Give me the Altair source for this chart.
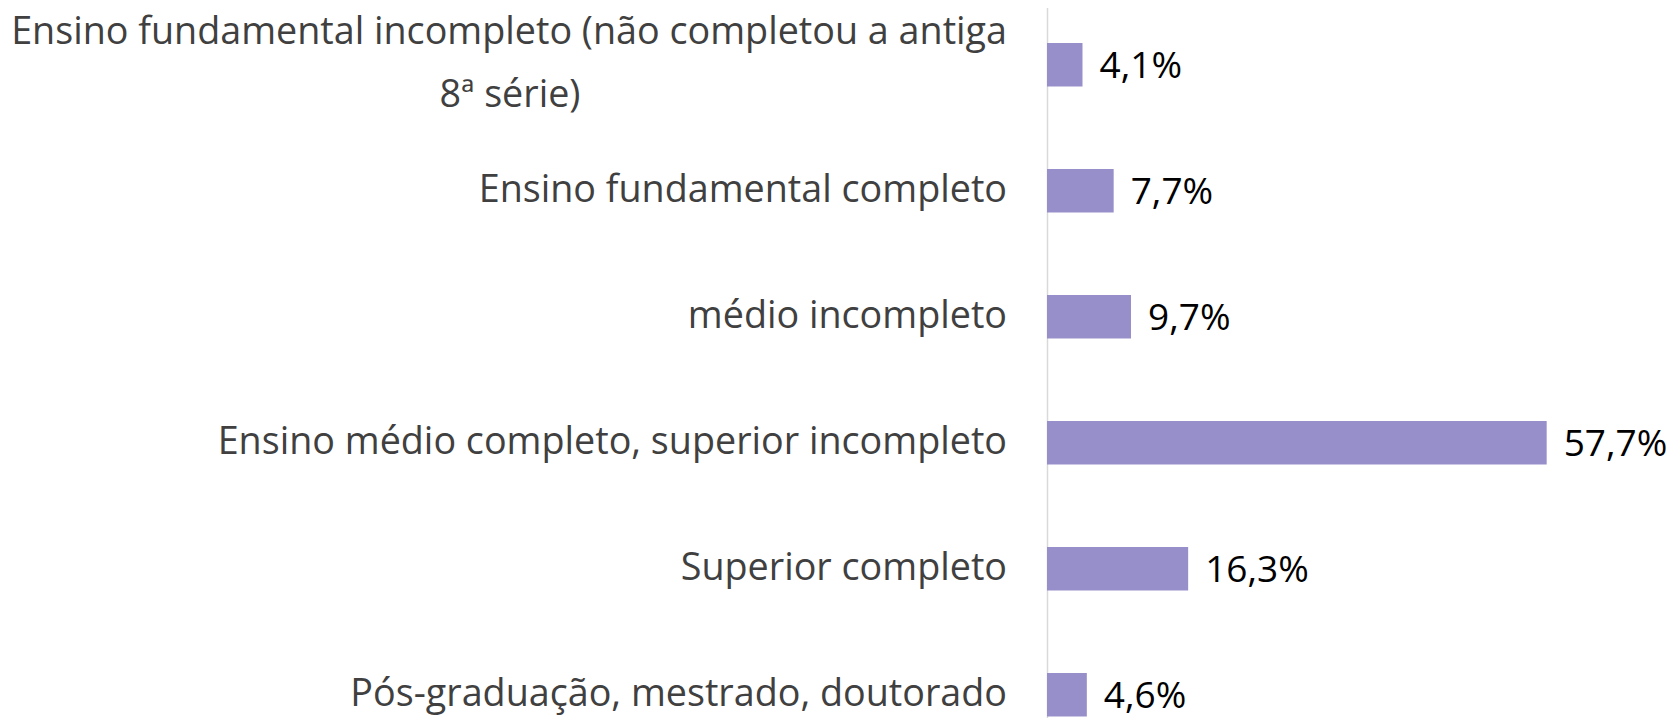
import altair as alt
import pandas as pd

categories = [
    "Ensino fundamental incompleto (não completou a antiga 8ª série)",
    "Ensino fundamental completo",
    "médio incompleto",
    "Ensino médio completo, superior incompleto",
    "Superior completo",
    "Pós-graduação, mestrado, doutorado",
]
line1 = [
    "Ensino fundamental incompleto (não completou a antiga",
    "Ensino fundamental completo",
    "médio incompleto",
    "Ensino médio completo, superior incompleto",
    "Superior completo",
    "Pós-graduação, mestrado, doutorado",
]
line2 = ["8ª série)", "", "", "", "", ""]
values = [4.1, 7.7, 9.7, 57.7, 16.3, 4.6]

df = pd.DataFrame({"cat": categories, "l1": line1, "l2": line2, "v": values})

FONT = "Open Sans"
LABEL_SIZE = 37.7
VALUE_SIZE = 37
W = 613
H = 710

yscale = alt.Scale(domain=categories, range=[-6.3, 749.7], paddingInner=0.655, paddingOuter=0.3275)
xscale = alt.Scale(domain=[0, W / 8.66])

base = alt.Chart(df)

bars = base.mark_bar(color="#978FCA").encode(
    y=alt.Y("cat:N", scale=yscale, sort=categories,
            axis=alt.Axis(labels=False, ticks=False, title=None, domainColor="#D9D9D9", domainWidth=1.5, grid=False)),
    x=alt.X("v:Q", scale=xscale, axis=None),
)

vals = base.transform_calculate(
    txt="replace(format(datum.v, '.1f'), '.', ',') + '%'"
).mark_text(align="left", baseline="middle", dx=17, dy=2, font=FONT, fontSize=VALUE_SIZE, color="#000000").encode(
    y=alt.Y("cat:N", scale=yscale, sort=categories),
    x=alt.X("v:Q", scale=xscale),
    text="txt:N",
)

single = base.transform_filter("datum.l2 == ''").mark_text(
    align="right", baseline="middle", font=FONT, fontSize=LABEL_SIZE, color="#404040"
).encode(
    y=alt.Y("cat:N", scale=yscale, sort=categories),
    x=alt.value(-40),
    text="l1:N",
)

wrap1 = base.transform_filter("datum.l2 != ''").mark_text(
    align="right", baseline="middle", dy=-32, font=FONT, fontSize=LABEL_SIZE, color="#404040"
).encode(
    y=alt.Y("cat:N", scale=yscale, sort=categories),
    x=alt.value(-40),
    text="l1:N",
)

wrap2 = base.transform_filter("datum.l2 != ''").mark_text(
    align="center", baseline="middle", dy=31, font=FONT, fontSize=LABEL_SIZE, color="#404040"
).encode(
    y=alt.Y("cat:N", scale=yscale, sort=categories),
    x=alt.value(-537),
    text="l2:N",
)

chart = alt.layer(bars, vals, single, wrap1, wrap2).properties(
    width=W,
    height=H,
    autosize=alt.AutoSizeParams(type="none"),
    padding={"left": 1039, "top": 0, "right": 10, "bottom": 0},
    background="white",
).configure_view(stroke=None)

chart.save("out.html", embed_options={"renderer": "svg", "actions": False})
